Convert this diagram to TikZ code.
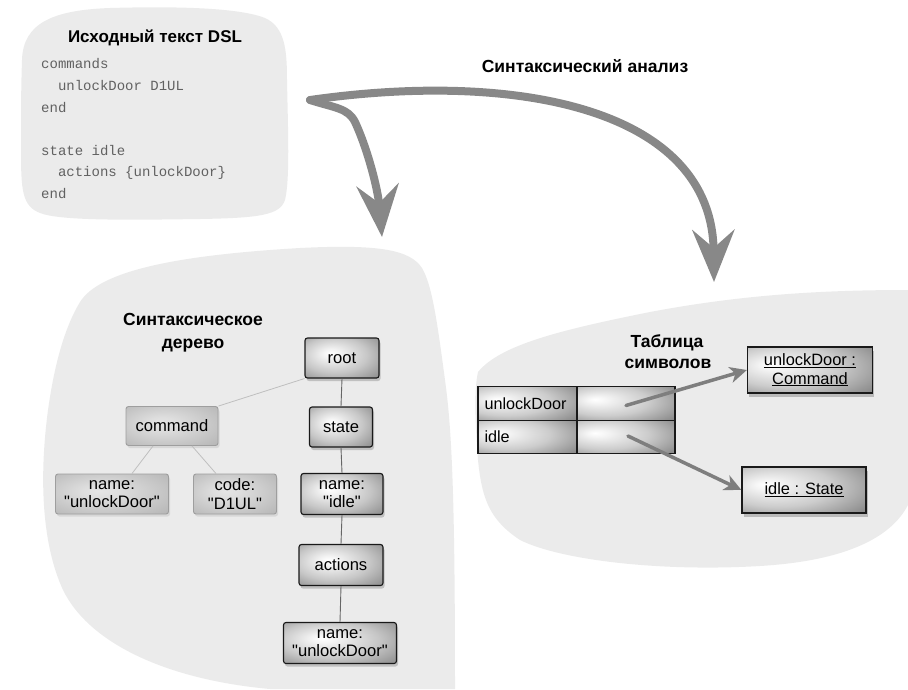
\documentclass[tikz,border=0pt]{standalone}
\usepackage{fontspec}
\setmainfont{Liberation Sans}[Ligatures=TeXOff]
\setmonofont{Liberation Mono}
\usetikzlibrary{arrows.meta,shadows,calc}

\definecolor{blobgray}{HTML}{EBEBEB}
\definecolor{bigarrowgray}{HTML}{888888}
\definecolor{smallarrowgray}{HTML}{7E7E7E}

\pgfdeclareradialshading{darkboxshade}{\pgfpoint{-8bp}{6bp}}{color(0bp)=(white); color(5bp)=(black!4); color(22bp)=(black!22); color(42bp)=(black!50); color(60bp)=(black!62)}
\pgfdeclareradialshading{lightboxshade}{\pgfpoint{-6bp}{4bp}}{color(0bp)=(black!10); color(8bp)=(black!13); color(40bp)=(black!30); color(60bp)=(black!37)}
\pgfdeclareradialshading{objshade}{\pgfpoint{-16bp}{6bp}}{color(0bp)=(white); color(5bp)=(black!4); color(22bp)=(black!20); color(46bp)=(black!55); color(66bp)=(black!70)}

\tikzset{
  blob/.style={fill=blobgray, draw=none},
  titletext/.style={font=\fontsize{17.5}{20}\selectfont\bfseries, anchor=base},
  codeline/.style={font=\fontsize{14}{16}\ttfamily, text=black!62, anchor=base west, inner sep=0pt},
  darkbox/.style={draw=black!90, line width=1.1pt, rounded corners=2.5pt, shading=darkboxshade,
     drop shadow={shadow xshift=1.5pt, shadow yshift=-3pt, opacity=0.4},
     font=\fontsize{16.6}{18.5}\selectfont, align=center, inner sep=1pt},
  lightbox/.style={draw=black!38, line width=0.9pt, rounded corners=2.5pt, shading=lightboxshade,
     drop shadow={shadow xshift=1.5pt, shadow yshift=-2.5pt, opacity=0.18},
     font=\fontsize{16.6}{18.5}\selectfont, align=center, inner sep=1pt},
  objbox/.style={draw=black!90, line width=1.2pt, shading=objshade,
     drop shadow={shadow xshift=1.5pt, shadow yshift=-3.5pt, opacity=0.45},
     font=\fontsize{16.4}{18.5}\selectfont, align=center, inner sep=1pt},
  cell/.style={draw=black!90, line width=1.1pt, shading=objshade, minimum height=33.5pt,
     font=\fontsize{16.2}{18.5}\selectfont, inner sep=0pt},
  lightedge/.style={draw=black!25, line width=0.8pt},
  darkedge/.style={draw=black!60, line width=0.9pt},
  bigarrow/.style={draw=bigarrowgray, line width=8pt, line cap=round,
     -{Stealth[length=52pt, width=42pt, inset=18pt]}},
  smallarrow/.style={draw=smallarrowgray, line width=3.5pt, line cap=round,
     -{Stealth[length=17pt, width=16pt, inset=5pt]}},
}

\begin{document}
\begin{tikzpicture}[x=1pt, y=-1pt]
\useasboundingbox (0,0) rectangle (908,689);

% ---------- blobs ----------
\path[blob] (22,60) .. controls (23,22) and (55,10) .. (110,8)
  .. controls (180,6) and (240,8) .. (265,18)
  .. controls (285,27) and (287,50) .. (287,80)
  .. controls (288,130) and (290,180) .. (285,200)
  .. controls (280,215) and (260,218) .. (200,219)
  .. controls (130,220) and (60,221) .. (40,213)
  .. controls (22,206) and (21,190) .. (21,150)
  .. controls (21,110) and (21,90) .. (22,60) -- cycle;

\path[blob] (80,302) .. controls (100,270) and (180,255) .. (300,248)
  .. controls (380,244) and (410,250) .. (422,268)
  .. controls (432,285) and (437,320) .. (445,380)
  .. controls (452,430) and (455,500) .. (455,689)
  -- (270,689)
  .. controls (170,680) and (90,645) .. (63,590)
  .. controls (40,540) and (40,470) .. (48,410)
  .. controls (55,360) and (66,325) .. (80,302) -- cycle;

\path[blob] (478,372) .. controls (500,345) and (560,330) .. (650,312)
  .. controls (740,295) and (820,290) .. (908,290)
  -- (908,505)
  .. controls (895,530) and (860,560) .. (760,566)
  .. controls (660,572) and (560,560) .. (520,540)
  .. controls (490,520) and (482,500) .. (478,460)
  .. controls (475,420) and (474,390) .. (478,372) -- cycle;

% ---------- source text ----------
\node[titletext, font=\fontsize{17}{20}\selectfont\bfseries] (srctitle) at (155,42) {Исходный текст DSL};
\node[codeline] (c1) at (41,68) {commands};
\node[codeline] (c2) at (41,90) {\ \ unlockDoor D1UL};
\node[codeline] (c3) at (41,112) {end};
\node[codeline] (c4) at (41,155) {state idle};
\node[codeline] (c5) at (41,176) {\ \ actions \{unlockDoor\}};
\node[codeline] (c6) at (41,198) {end};

% ---------- big arrows ----------
\node[titletext] (parsetitle) at (585,72) {Синтаксический анализ};
\coordinate (fork) at (310,100);
\coordinate (tip1) at (382,237);
\coordinate (tip2) at (714,282);
\draw[bigarrow] (fork) .. controls (335,108) and (348,108) .. (355,122)
   .. controls (368,150) and (378,190) .. (tip1);
\draw[bigarrow] (fork) .. controls (520,70) and (712,110) .. (tip2);

% ---------- syntax tree ----------
\node[titletext] (treetitle1) at (193,325) {Синтаксическое};
\node[titletext] (treetitle2) at (193,348) {дерево};

\node[darkbox, minimum width=74pt, minimum height=40pt] (root) at (342,358) {root};
\node[lightbox, minimum width=92pt, minimum height=39pt] (command) at (172,426) {command};
\node[darkbox, minimum width=63pt, minimum height=40pt] (state) at (341,427) {state};
\node[lightbox, minimum width=113pt, minimum height=40pt] (nl) at (112,494) {name:\\"unlockDoor"};
\node[lightbox, minimum width=83pt, minimum height=40pt] (cd) at (235,494) {code:\\"D1UL"};
\node[darkbox, minimum width=82pt, minimum height=41pt] (ni) at (342,494) {name:\\"idle"};
\node[darkbox, minimum width=84pt, minimum height=41pt] (act) at (341,565) {actions};
\node[darkbox, minimum width=113pt, minimum height=41pt] (nu) at (340,643) {name:\\"unlockDoor"};

\draw[lightedge] (root.south west) -- (command.north east);
\draw[lightedge] ($(command.south)+(-19,0)$) -- ($(nl.north)+(20,0)$);
\draw[lightedge] ($(command.south)+(20,0)$) -- ($(cd.north)+(-19,0)$);
\draw[darkedge] (root.south) -- (state.north);
\draw[darkedge] (state.south) -- (ni.north);
\draw[darkedge] (ni.south) -- (act.north);
\draw[darkedge] (act.south) -- (nu.north);

% ---------- symbol table ----------
\node[titletext] (tabtitle1) at (667,347) {Таблица};
\node[titletext] (tabtitle2) at (668,368) {символов};

\node[cell, text width=86pt, align=left, inner xsep=6.5pt] (t11) at (527.5,403.5) {unlockDoor};
\node[cell, minimum width=98pt] (t12) at (626,403.5) {};
\node[cell, text width=86pt, align=left, inner xsep=6.5pt] (t21) at (527.5,437) {idle};
\node[cell, minimum width=98pt] (t22) at (626,437) {};

\node[objbox, minimum width=125pt, minimum height=46pt] (obj1) at (810,370)
  {\underline{unlockDoor :}\\\underline{Command}};
\node[objbox, minimum width=124pt, minimum height=46pt] (obj2) at (804,490)
  {\underline{idle : State}};

\draw[smallarrow] ($(t12.center)+(0,2)$) -- (obj1.west);
\draw[smallarrow] ($(t22.center)+(2,-1)$) -- (obj2.west);
\end{tikzpicture}
\end{document}
